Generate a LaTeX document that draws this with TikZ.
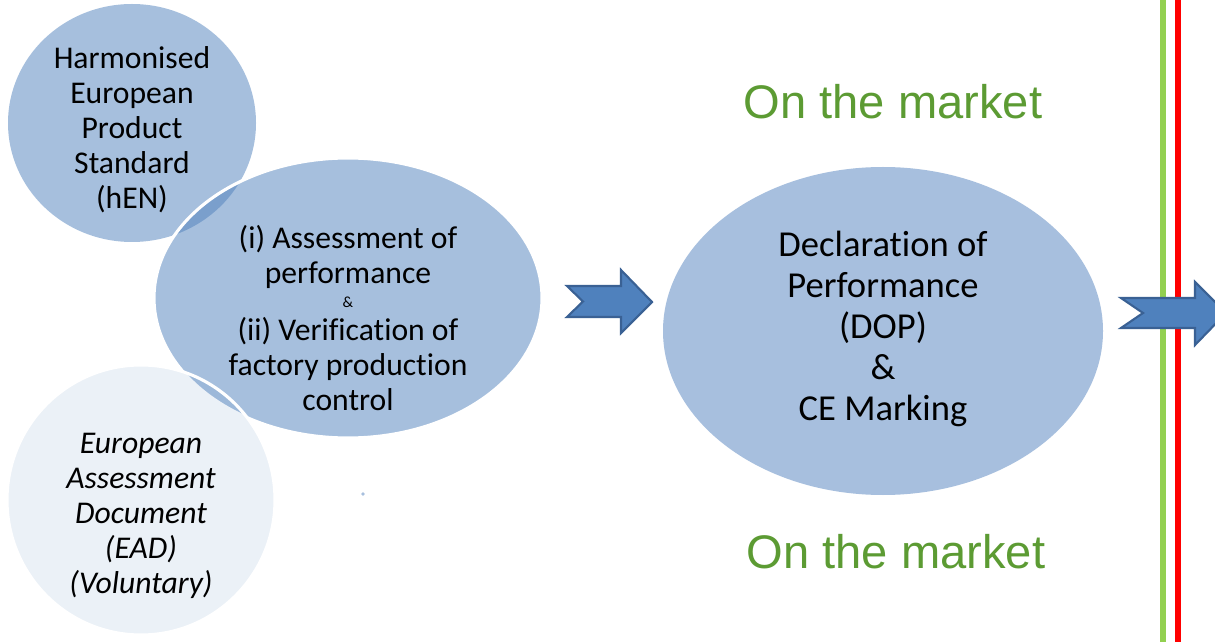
\documentclass[tikz,border=0pt]{standalone}
\usepackage{fontspec}
\setmainfont{Carlito}[Ligatures=CommonOff]
\newfontfamily\arialf{Liberation Sans}
\definecolor{accent}{HTML}{4F81BD}
\definecolor{dopblue}{HTML}{A7BFDE}
\definecolor{arrowline}{HTML}{3A6194}
\definecolor{mktgreen}{HTML}{5C9B33}
\definecolor{lgreen}{HTML}{92D050}
\tikzset{
  bubble/.style={fill=accent, fill opacity=0.5, draw=white, line width=2.2pt},
  lightbubble/.style={fill=accent, fill opacity=0.11, draw=white, line width=2.2pt},
  bodytext/.style={text=black, text opacity=1, align=center, font=\fontsize{22.5}{24.9}\selectfont},
  doptext/.style={text=black, align=center, font=\fontsize{26}{29.2}\selectfont},
  market/.style={text=mktgreen, font=\arialf\fontsize{33.5}{36}\selectfont},
  blockarrow/.style={fill=accent, draw=arrowline, line width=1.5pt, line join=miter},
  vline/.style={line width=3.8pt}
}
\begin{document}
\begin{tikzpicture}[x=0.025cm, y=-0.025cm]
\useasboundingbox (0,0) rectangle (1215,642);
\clip (0,0) rectangle (1215,642);
\fill[white] (0,0) rectangle (1215,642);
% left bubbles
\fill[accent, fill opacity=0.5] (132,123) ellipse [x radius=124, y radius=119];
\draw[bubble] (348,298) ellipse [x radius=194, y radius=140];
\draw[lightbubble] (141,500) ellipse [x radius=134, y radius=135];
\fill[dopblue] (363,494) circle [radius=1.8];
\node[bodytext] (hen) at (132,130) {Harmonised\\European\\Product\\Standard\\(hEN)};
\node[bodytext] (assess) at (348,318) {(i) Assessment of\\performance\\[-8pt]{\fontsize{11}{12}\selectfont\&}\\[-1pt](ii) Verification of\\factory production\\control};
\node[bodytext, font=\itshape\fontsize{22.5}{24.9}\selectfont] (ead) at (141,516) {European\\Assessment\\Document\\(EAD)\\(Voluntary)};
% DOP ellipse
\fill[dopblue] (883,331) ellipse [x radius=220, y radius=164];
\node[doptext] (dop) at (883,329) {Declaration of\\Performance\\(DOP)\\\&\\CE Marking};
\node[market] (mtop) at (893,102) {On the market};
\node[market] (mbot) at (896,552) {On the market};
% vertical lines
\draw[vline, lgreen] (1163,0) -- (1163,642);
\draw[vline, red] (1178,0) -- (1178,642);
% block arrows
\draw[blockarrow] (567,286) -- (621,286) -- (621,270) -- (652,302) -- (621,333) -- (621,317) -- (567,317) -- (583,301.5) -- cycle;
\draw[blockarrow] (1121,298) -- (1195,298) -- (1195,282) -- (1226,313) -- (1195,345) -- (1195,328) -- (1121,328) -- (1143,313) -- cycle;
\end{tikzpicture}
\end{document}
